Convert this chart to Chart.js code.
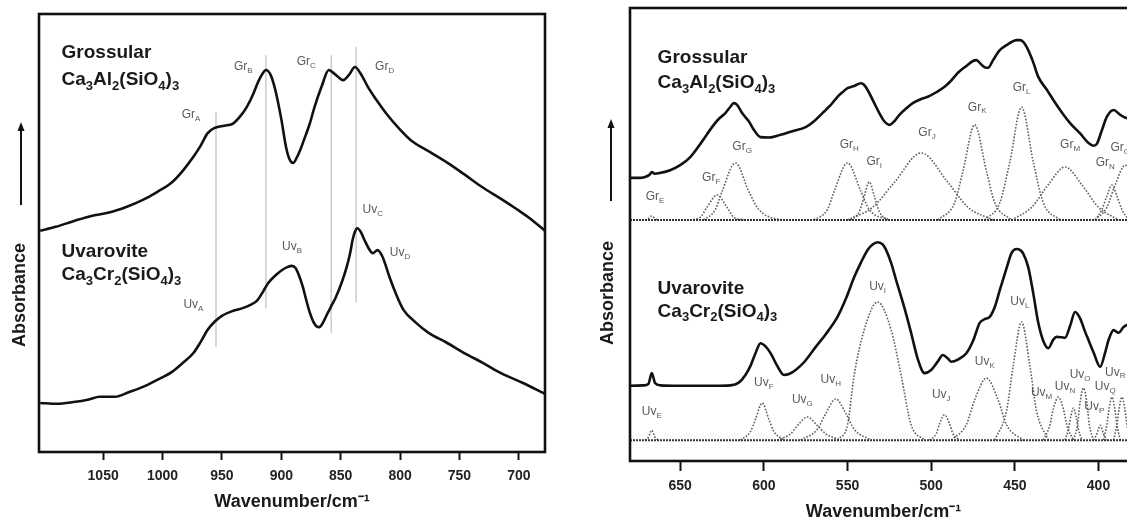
<!DOCTYPE html>
<html>
<head>
<meta charset="utf-8">
<script src="https://cdn.jsdelivr.net/npm/chart.js@4.4.1/dist/chart.umd.min.js"></script>
<style>
html, body { margin: 0; padding: 0; overflow: hidden; background: #fff; width: 1127px; height: 521px; }
.box { position: absolute; top: 0; height: 521px; }
#wl { left: 0; width: 580px; }
#wr { left: 580px; width: 580px; }
</style>
</head>
<body>
<div class="box" id="wl"><canvas id="left"></canvas></div>
<div class="box" id="wr"><canvas id="right"></canvas></div>
<script>
// ---- left panel: full spectra, 1100-680 cm-1 ----
const leftTicks = [1050, 1000, 950, 900, 850, 800, 750, 700];

const grossWn = [1103,1090,1075,1060,1046,1030,1017,1005,992,983,974,968,962,956,948,941,935,929,924,920,916,913,909,905,900,896,893,890,887,884,881,876,872,866,860,856,852,848,843,838,833,827,820,812,800,791,775,760,745,731,715,701,690,678];
const grossAbs = [50.5,51.4,52.7,53.9,54.6,56.0,57.5,59.3,61.6,64.2,67.4,69.9,72.8,74.0,74.5,74.9,76.5,78.8,81.5,84.2,86.3,87.2,86.1,82.6,76.0,69.6,66.8,66.0,67.2,69.0,71.2,75.0,78.8,83.5,87.2,86.5,85.6,84.9,86.1,87.9,86.3,83.3,80.4,77.4,73.6,71.2,68.5,66.0,63.2,60.5,57.8,55.3,53.2,50.5];

const uvWn = [1103,1089,1075,1062,1053,1040,1028,1017,1005,992,983,974,968,962,956,950,941,932,926,920,915,911,905,899,895,891,888,886,882,879,876,873,870,868,865,861,857,854,849,845,842,840,838,836,833,830,826,823,819,815,812,809,803,797,787,776,761,746,730,715,697,678];
const uvAbs = [11.2,11.0,11.4,12.0,12.6,12.6,13.7,14.8,16.4,18.3,20.3,22.6,25.1,27.9,29.8,31.1,32.2,32.9,33.6,34.7,36.8,38.6,40.3,41.6,42.2,42.5,42.0,40.9,37.8,34.7,31.8,29.7,28.6,28.5,29.5,31.7,33.8,35.4,38.8,42.2,45.5,48.4,50.3,51.1,50.2,48.4,46.3,45.4,46.1,44.7,42.5,40.0,35.8,32.4,29.6,27.2,25.0,22.6,20.3,18.0,15.8,13.3];

// band marker lines (position, top, bottom)
const markWn = [955, 913, 858, 837];
const markTop = [77.6, 90.6, 90.6, 92.5];
const markBottom = [24.0, 32.9, 27.2, 34.2];

const leftTagText = ['Gr_A', 'Gr_B', 'Gr_C', 'Gr_D', 'Uv_A', 'Uv_B', 'Uv_C', 'Uv_D'];
const leftTagWn = [976, 932, 879, 813, 974, 891, 823, 800];
const leftTagAbs = [76.9, 87.9, 89.0, 87.9, 33.6, 46.8, 55.3, 45.4];

const leftTitleText = ['Grossular', 'Ca_3_Al_2_(SiO_4_)_3', 'Uvarovite', 'Ca_3_Cr_2_(SiO_4_)_3'];
const leftTitleWn = [1085, 1085, 1085, 1085];
const leftTitleAbs = [91.1, 84.9, 45.7, 40.4];

// ---- right panel: 680-380 cm-1 with fitted components ----
const rightTicks = [650, 600, 550, 500, 450, 400];

const grSumWn = [680,675,671,668,667,665,663,656,650,644,637,631,627,623,620,618,616,613,609,606,602,597,590,583,575,570,565,560,556,553,550,546,542,540,538,534,531,528,525,522,519,515,511,506,502,497,492,488,484,479,475,473,470,468,466,463,459,455,452,449,447,445,442,439,436,431,427,422,417,411,406,403,401,398,395,391,387,383,378];
const grSumAbs = [62.5,62.5,62.7,63.3,63.8,63.4,63.5,64.2,65.3,67.1,70.5,73.7,75.5,76.8,78.2,79.0,78.6,76.8,75.0,73.1,71.5,71.4,72.0,72.8,73.7,75.0,76.8,78.6,80.4,81.4,82.3,82.8,83.4,83.0,81.9,79.0,76.8,75.0,74.2,75.0,76.4,77.8,79.0,79.9,80.4,81.4,82.6,84.0,85.7,87.2,88.3,88.5,87.5,86.9,86.8,88.5,90.7,91.8,92.5,92.9,92.9,92.5,90.7,88.0,84.8,82.0,79.7,77.0,74.6,72.3,70.2,69.6,70.0,73.0,76.0,77.5,76.4,75.7,76.5];

const uvSumWn = [680,672,669,667,665,662,650,640,630,620,615,611,608,605,602,599,596,592,588,585,581,576,569,563,556,551,546,542,538,535,532,529,527,524,521,516,512,508,504,500,496,493,490,488,484,479,475,471,468,465,462,459,455,452,449,447,445,442,439,436,433,430,427,425,422,420,417,414,411,408,406,403,399,396,394,391,388,385,383,379];
const uvSumAbs = [16.6,16.7,17.0,19.4,17.2,16.7,16.6,16.6,16.6,16.7,17.3,19.0,21.0,23.8,26.0,25.3,23.8,21.0,19.0,19.2,20.1,21.8,25.2,28.0,31.8,35.8,40.6,43.8,46.6,47.8,48.3,47.8,46.6,43.8,40.0,33.8,28.3,22.5,19.4,20.1,22.0,23.4,22.6,21.9,22.4,23.8,26.5,30.5,31.3,31.8,34.0,37.7,42.5,45.9,46.8,46.6,45.8,42.8,37.0,30.5,26.5,24.9,26.8,27.4,27.3,27.2,29.8,32.9,31.5,28.5,26.7,24.0,20.8,24.0,26.7,28.9,28.3,29.6,30.0,28.9];

const grBase = [[680, 377], [53.2, 53.2]];
const uvBase = [[680, 377], [4.6, 4.6]];

// fitted bands: [wavenumbers], [absorbance]
const grE = [[671,669,667,665,663], [53.2,53.5,54.1,53.5,53.2]];
const grF = [[644,638,634,628,622,618,612], [53.2,53.8,56.0,58.7,56.0,53.8,53.2]];
const grG = [[636,629,625,617,609,603,592,585], [53.2,55.5,59.5,65.8,59.5,55.5,53.4,53.2]];
const grH = [[570,562,558,550,542,537,525], [53.2,55.5,59.5,65.8,59.5,55.5,53.2]];
const grI = [[548,543,540,537,534,531,526], [53.2,55.0,58.5,61.6,58.5,55.0,53.2]];
const grJ = [[550,535,522,506,490,478,463], [53.2,56.0,61.5,68.0,61.5,56.0,53.2]];
const grK = [[496,486,481,474,467,462,452], [53.2,57.0,64.0,74.2,64.0,57.0,53.2]];
const grL = [[468,459,453,446,439,433,423], [53.2,57.0,66.0,78.1,66.0,57.0,53.2]];
const grM = [[452,440,430,420,410,400,388], [53.2,56.0,61.0,64.9,61.0,56.0,53.2]];
const grN = [[402,398,395,392,389,386,382], [53.2,55.5,58.5,60.9,58.5,55.5,53.2]];
const grO = [[402,395,390,384,378,372,362], [53.2,56.0,61.0,65.3,61.0,56.0,53.2]];

const uvE = [[671,669,667,665,663], [4.6,5.2,6.8,5.2,4.6]];
const uvF = [[614,608,605,601,597,594,588], [4.6,6.5,9.2,12.8,9.2,6.5,4.6]];
const uvG = [[592,584,580,574,568,563,554], [4.6,6.0,7.8,9.7,7.8,6.0,4.6]];
const uvH = [[578,568,563,557,551,546,536], [4.6,7.0,10.5,13.7,10.5,7.0,4.6]];
const uvI = [[556,550,546,540,532,524,518,512,504], [4.6,8.0,19.0,29.0,35.1,29.0,19.0,8.0,4.6]];
const uvJ = [[501,497,495,492,489,487,483], [4.6,6.0,8.2,10.2,8.2,6.0,4.6]];
const uvK = [[488,479,474,467,460,455,445], [4.6,8.0,13.5,18.3,13.5,8.0,4.6]];
const uvL = [[462,455,451,446,441,437,430], [4.6,11.0,21.0,30.7,21.0,11.0,4.6]];
const uvM = [[433,429,427,424,421,419,415], [4.6,8.0,11.5,14.1,11.5,8.0,4.6]];
const uvN = [[420,418,416.5,415,413.5,412,410], [4.6,7.0,10.0,11.7,10.0,7.0,4.6]];
const uvO = [[415,412.5,411,409,407,405.5,403], [4.6,8.0,13.0,16.1,13.0,8.0,4.6]];
const uvP = [[403,401,399,397,395], [4.6,6.0,7.9,6.0,4.6]];
const uvQ = [[397,395,393.5,392,390.5,389,387], [4.6,8.0,12.0,14.1,12.0,8.0,4.6]];
const uvR = [[391,389,387.5,386,384.5,383,381], [4.6,8.0,12.0,14.1,12.0,8.0,4.6]];

const rightTagText = ['Gr_E','Gr_F','Gr_G','Gr_H','Gr_I','Gr_J','Gr_K','Gr_L','Gr_M','Gr_N','Gr_O',
  'Uv_E','Uv_F','Uv_G','Uv_H','Uv_I','Uv_J','Uv_K','Uv_L','Uv_M','Uv_N','Uv_O','Uv_P','Uv_Q','Uv_R'];
const rightTagWn = [665,631.5,613,549,534,502.5,472.5,446,417,396,387,
  667,600,577,560,532,494,468,447,434,420,411,402.5,396,390];
const rightTagAbs = [58.3,62.5,69.3,69.8,66.0,72.4,78.1,82.3,69.8,65.8,69.1,
  10.8,17.2,13.5,17.9,38.4,14.6,21.9,35.1,15.0,16.3,19.0,11.9,16.3,19.6];

const rightTitleText = ['Grossular', 'Ca_3_Al_2_(SiO_4_)_3', 'Uvarovite', 'Ca_3_Cr_2_(SiO_4_)_3'];
const rightTitleWn = [663.5, 663.5, 663.5, 663.5];
const rightTitleAbs = [89.0, 83.4, 38.1, 33.0];

// ---- helpers ----
const FAM = '"Liberation Sans", Arial, Helvetica, sans-serif';
Chart.defaults.font.family = FAM;

function pts(wn, ab) {
  return wn.map((w, i) => ({ x: w, y: ab[i] }));
}

function sumSet(wn, ab) {
  return { data: pts(wn, ab), borderColor: '#111', borderWidth: 2.6, pointRadius: 0,
    cubicInterpolationMode: 'monotone', order: 0 };
}

function bandSet(b) {
  return { data: pts(b[0], b[1]), borderColor: '#5e5e5e', borderWidth: 1.6, borderDash: [1.6, 1.6],
    pointRadius: 0, cubicInterpolationMode: 'monotone', order: 1 };
}

function baseSet(b) {
  return { data: pts(b[0], b[1]), borderColor: '#333', borderWidth: 2, borderDash: [2, 1],
    pointRadius: 0, order: 1 };
}

// text with "_" toggling subscript parts, e.g. "Gr_A" or "Ca_3_Al_2..."
function rich(ctx, str, x, y, size, weight, color, align) {
  const parts = str.split('_');
  const sub = Math.round(size * 0.7);
  let w = 0;
  parts.forEach((p, i) => {
    ctx.font = weight + ' ' + (i % 2 ? sub : size) + 'px ' + FAM;
    w += ctx.measureText(p).width;
  });
  let cx = align === 'center' ? x - w / 2 : x;
  ctx.fillStyle = color;
  ctx.textBaseline = 'middle';
  ctx.textAlign = 'left';
  parts.forEach((p, i) => {
    ctx.font = weight + ' ' + (i % 2 ? sub : size) + 'px ' + FAM;
    ctx.fillText(p, cx, i % 2 ? y + size * 0.32 : y);
    cx += ctx.measureText(p).width;
  });
}

function upArrow(ctx, x, top, bottom) {
  ctx.save();
  ctx.strokeStyle = '#111';
  ctx.fillStyle = '#111';
  ctx.lineWidth = 2;
  ctx.beginPath();
  ctx.moveTo(x, bottom);
  ctx.lineTo(x, top + 6);
  ctx.stroke();
  ctx.beginPath();
  ctx.moveTo(x, top);
  ctx.lineTo(x - 3.5, top + 9);
  ctx.lineTo(x + 3.5, top + 9);
  ctx.closePath();
  ctx.fill();
  ctx.restore();
}

function yTitle(ctx, x, y) {
  ctx.save();
  ctx.translate(x, y);
  ctx.rotate(-Math.PI / 2);
  ctx.font = 'bold 18px ' + FAM;
  ctx.fillStyle = '#1a1a1a';
  ctx.textAlign = 'center';
  ctx.textBaseline = 'middle';
  ctx.fillText('Absorbance', 0, 0);
  ctx.restore();
}

function decorate(opts) {
  return {
    id: 'decor',
    afterDatasetsDraw(chart) {
      const { ctx, chartArea: a, scales: { x, y } } = chart;
      ctx.save();
      ctx.strokeStyle = '#111';
      ctx.lineWidth = 2.6;
      ctx.strokeRect(a.left, a.top, a.right - a.left, a.bottom - a.top);
      opts.tagText.forEach((t, i) => {
        rich(ctx, t, x.getPixelForValue(opts.tagWn[i]), y.getPixelForValue(opts.tagAbs[i]), 12, 'normal', '#5a5a5a', 'center');
      });
      opts.titleText.forEach((t, i) => {
        rich(ctx, t, x.getPixelForValue(opts.titleWn[i]), y.getPixelForValue(opts.titleAbs[i]), 19, 'bold', '#1a1a1a', 'left');
      });
      upArrow(ctx, opts.arrowX, opts.arrowTop, opts.arrowBottom);
      yTitle(ctx, opts.labelX, opts.labelY);
      ctx.restore();
    }
  };
}

function xAxis(min, max, ticks, h, tickLen, pad, titlePad, lineH) {
  return {
    type: 'linear', reverse: true, min: min, max: max,
    afterBuildTicks: s => { s.ticks = ticks.map(v => ({ value: v })); },
    afterFit: s => { s.height = h; },
    grid: { drawOnChartArea: false, drawTicks: true, tickLength: tickLen, tickWidth: 2, tickColor: '#111' },
    border: { display: false },
    ticks: { font: { size: 14, weight: 'bold' }, color: '#222', padding: pad, maxRotation: 0, autoSkip: false,
      callback: v => String(v) },
    title: { display: true, text: 'Wavenumber/cm\u207B\u00B9', color: '#1a1a1a',
      font: { size: 18, weight: 'bold', lineHeight: lineH }, padding: { top: 0, bottom: titlePad } }
  };
}

const common = {
  animation: false, responsive: true, maintainAspectRatio: false, events: [],
  plugins: { legend: { display: false }, tooltip: { enabled: false } }
};

// ---- left chart ----
const leftSets = [sumSet(grossWn, grossAbs), sumSet(uvWn, uvAbs)];
markWn.forEach((w, i) => {
  leftSets.push({ data: [{ x: w, y: markTop[i] }, { x: w, y: markBottom[i] }],
    borderColor: '#c4c4c4', borderWidth: 1.3, pointRadius: 0, order: 3 });
});

new Chart(document.getElementById('left'), {
  type: 'line',
  data: { datasets: leftSets },
  options: Object.assign({}, common, {
    layout: { padding: { left: 39, right: 35, top: 14, bottom: 0 } },
    scales: {
      x: xAxis(678, 1104, leftTicks, 69, 8, 8, 8, 1.2),
      y: { display: false, min: 0, max: 100 }
    }
  }),
  plugins: [decorate({
    tagText: leftTagText, tagWn: leftTagWn, tagAbs: leftTagAbs,
    titleText: leftTitleText, titleWn: leftTitleWn, titleAbs: leftTitleAbs,
    arrowX: 21, arrowTop: 122, arrowBottom: 205, labelX: 20, labelY: 295
  })]
});

// ---- right chart ----
const rightSets = [sumSet(grSumWn, grSumAbs), sumSet(uvSumWn, uvSumAbs), baseSet(grBase), baseSet(uvBase)];
[grE, grF, grG, grH, grI, grJ, grK, grL, grM, grN, grO,
 uvE, uvF, uvG, uvH, uvI, uvJ, uvK, uvL, uvM, uvN, uvO, uvP, uvQ, uvR].forEach(b => rightSets.push(bandSet(b)));

new Chart(document.getElementById('right'), {
  type: 'line',
  data: { datasets: rightSets },
  options: Object.assign({}, common, {
    layout: { padding: { left: 50, right: 23, top: 8, bottom: 0 } },
    scales: {
      x: xAxis(377, 680, rightTicks, 60, 10, 7, 0, 1.0),
      y: { display: false, min: 0, max: 100 }
    }
  }),
  plugins: [decorate({
    tagText: rightTagText, tagWn: rightTagWn, tagAbs: rightTagAbs,
    titleText: rightTitleText, titleWn: rightTitleWn, titleAbs: rightTitleAbs,
    arrowX: 31, arrowTop: 119, arrowBottom: 201, labelX: 28, labelY: 293
  })]
});
</script>
</body>
</html>
